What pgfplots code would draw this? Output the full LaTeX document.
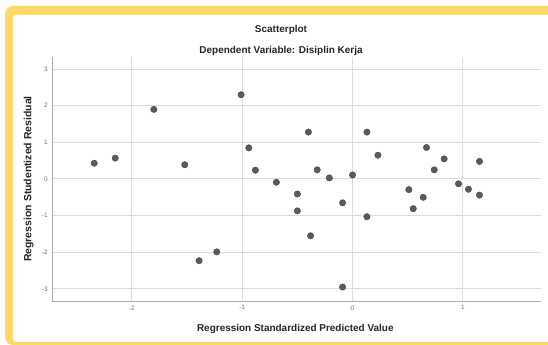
\documentclass[border=0pt]{standalone}
\usepackage{pgfplots}
\pgfplotsset{compat=1.18}
\usepackage{fontspec}
\setmainfont{Liberation Sans}
\definecolor{frameY}{HTML}{FFD966}
\definecolor{gridC}{HTML}{DCDCDC}
\definecolor{axisC}{HTML}{AAAAAA}
\definecolor{markC}{HTML}{5A5A5A}
\definecolor{tickC}{HTML}{707070}
\pgfplotstableread{
x y
-2.34 0.43
-2.15 0.57
-1.80 1.90
-1.52 0.39
-1.39 -2.23
-1.23 -1.99
-1.01 2.30
-0.94 0.85
-0.88 0.24
-0.69 -0.09
-0.40 1.28
-0.50 -0.41
-0.50 -0.87
-0.38 -1.55
-0.32 0.25
-0.21 0.03
-0.09 -0.65
-0.09 -2.95
0.00 0.11
0.13 1.28
0.13 -1.03
0.23 0.65
0.51 -0.29
0.55 -0.81
0.64 -0.50
0.67 0.86
0.74 0.25
0.83 0.55
0.96 -0.13
1.05 -0.28
1.15 0.48
1.15 -0.44
}\resid
\begin{document}
\begin{tikzpicture}
\useasboundingbox (0,0) rectangle (548bp,345bp);
\begin{scope}
\clip (0,0) rectangle (548bp,345bp);
\fill[frameY, rounded corners=8bp] (5bp,0bp) rectangle (580bp,339bp);
\fill[white, rounded corners=3bp] (13bp,3bp) rectangle (580bp,330bp);
\fill[white] (100bp,3bp) rectangle (580bp,330bp);
\end{scope}
\node[font=\bfseries\fontsize{10}{11}\selectfont, text=black!85] at (281bp,315bp) {Scatterplot};
\node[font=\bfseries\fontsize{10}{11}\selectfont, text=black!85] at (281bp,294bp) {Dependent Variable: Disiplin Kerja};
\begin{axis}[
  at={(52.3bp,44bp)}, anchor=south west,
  scale only axis, width=489bp, height=244bp,
  xmin=-2.72, xmax=1.71, ymin=-3.33, ymax=3.33,
  xtick={-2,-1,0,1}, ytick={-3,-2,-1,0,1,2,3},
  axis x line*=bottom, axis y line*=left,
  axis line style={axisC, line width=1bp, -},
  grid=major, major grid style={gridC, line width=1bp},
  major tick length=0pt,
  tick label style={font=\fontsize{6.5}{7.5}\selectfont, text=tickC},
  /pgf/number format/assume math mode=true,
  xticklabel style={yshift=-1bp},
  yticklabel style={xshift=-1bp},
  xlabel={\bfseries Regression Standardized Predicted Value},
  ylabel={\bfseries Regression Studentized Residual},
  label style={font=\fontsize{10}{11}\selectfont, text=black!85},
  xlabel style={at={(axis description cs:0.497,0)}, anchor=center, yshift=-28bp},
  ylabel style={at={(axis description cs:0,0.5)}, anchor=center, yshift=23.5bp, font=\fontsize{10.5}{11}\selectfont},
  clip=false,
]
\addplot[only marks, mark=*, mark size=3.2bp, mark options={fill=markC, draw=markC!80!black, line width=0.4bp}] table[x=x,y=y] {\resid};
\end{axis}
\end{tikzpicture}
\end{document}
